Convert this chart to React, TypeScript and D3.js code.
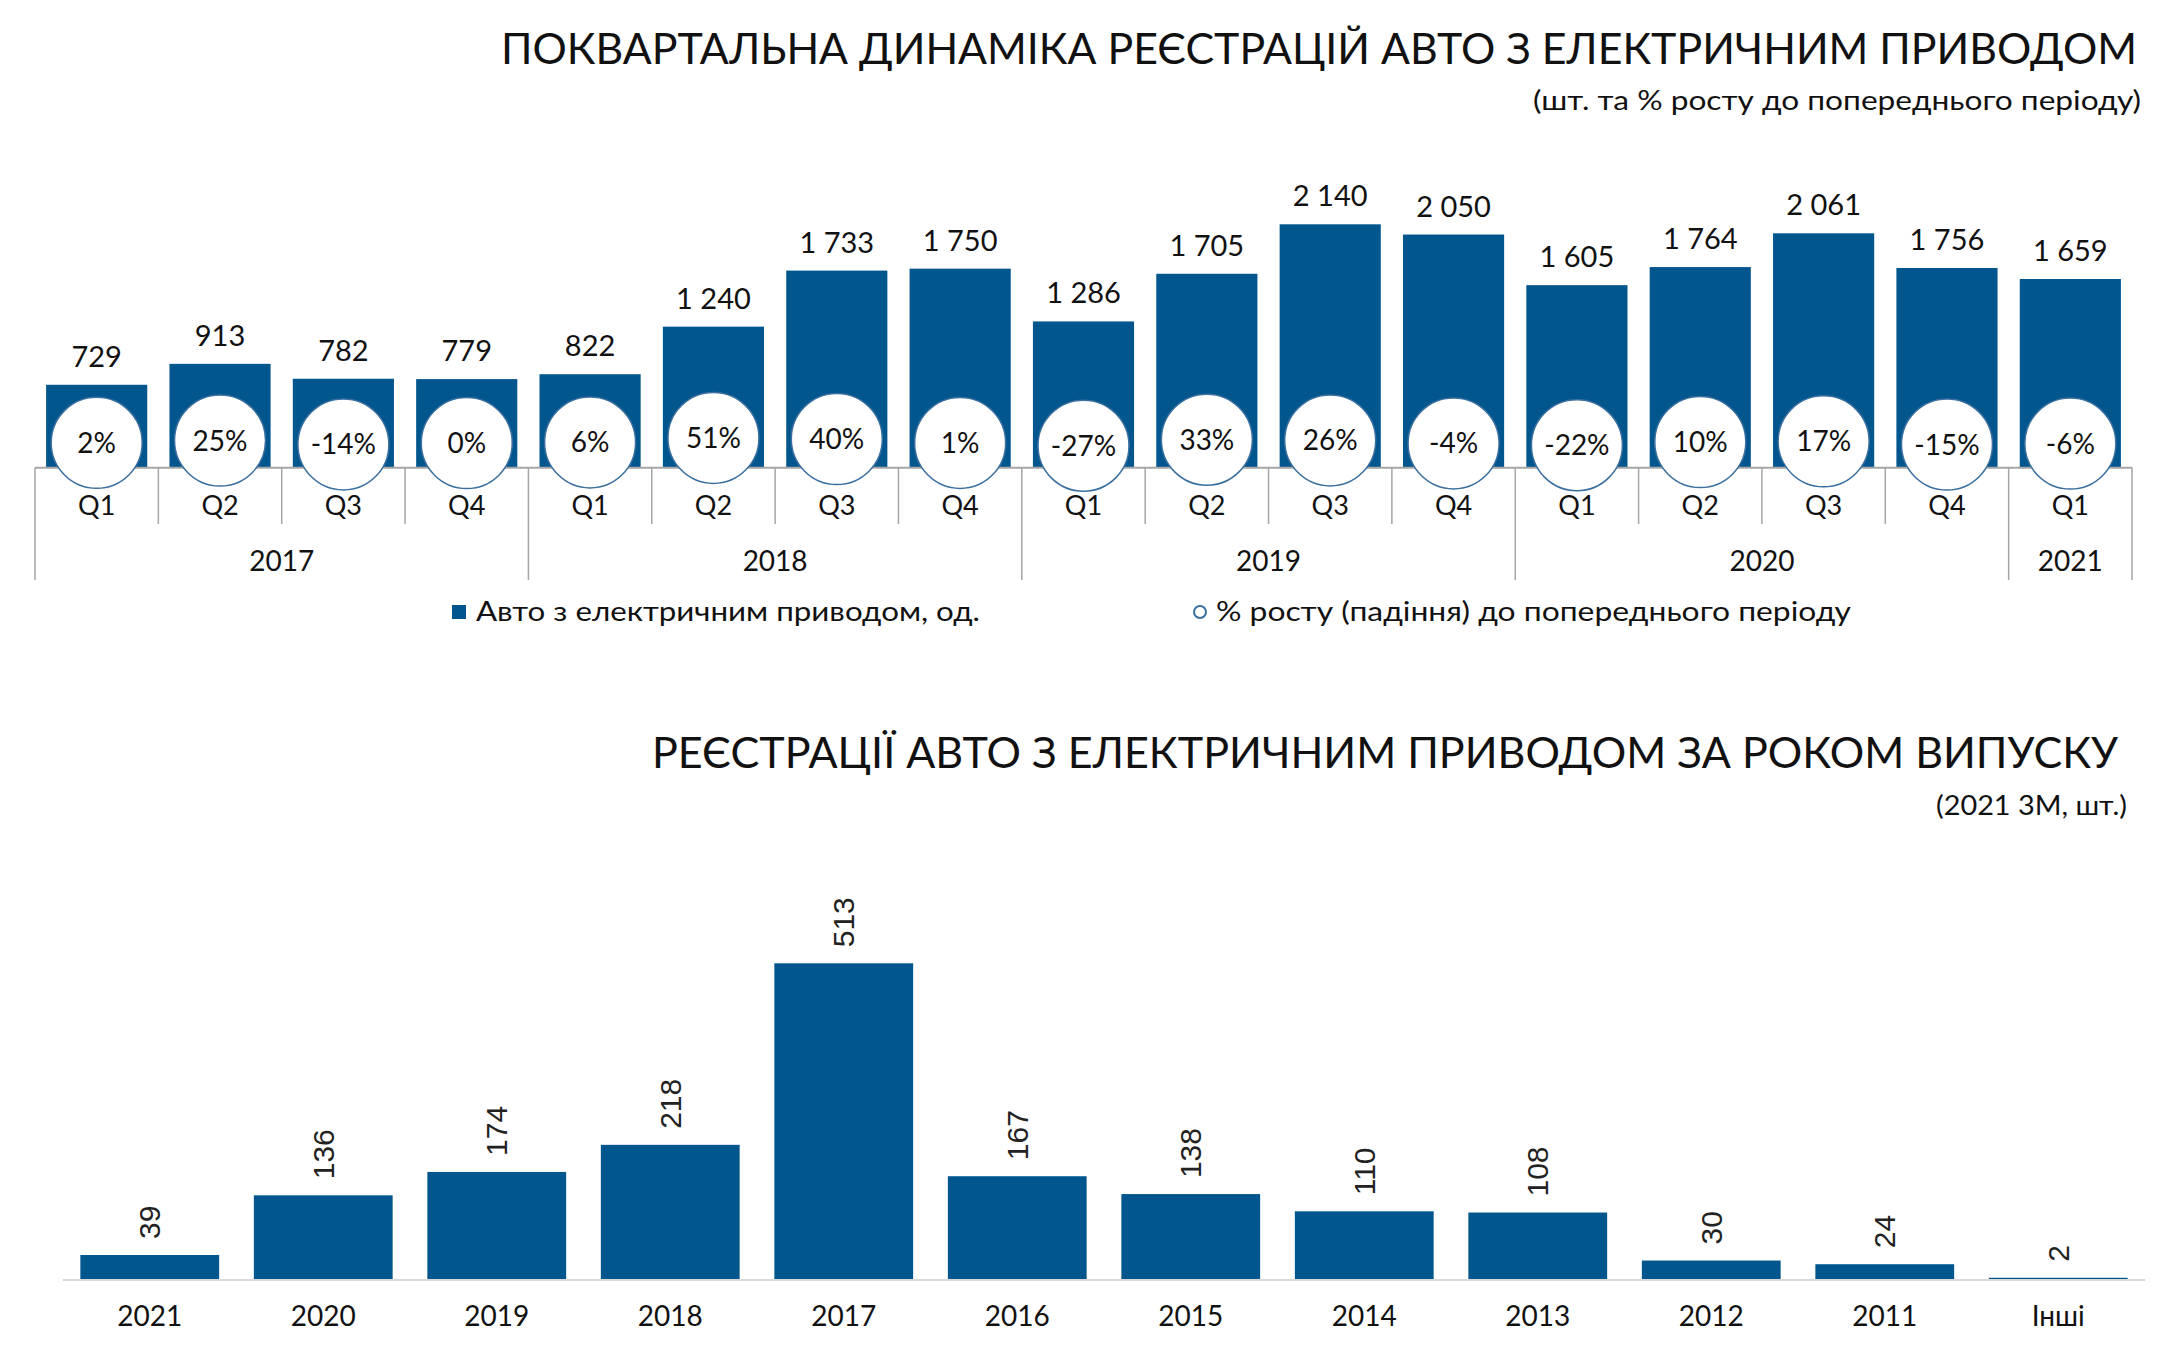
import React from "react";
import * as d3 from "d3";

// ---- Data: quarterly EV registrations ----
const quarterLabels = ["Q1","Q2","Q3","Q4","Q1","Q2","Q3","Q4","Q1","Q2","Q3","Q4","Q1","Q2","Q3","Q4","Q1"];
const quarterYears = ["2017","2017","2017","2017","2018","2018","2018","2018","2019","2019","2019","2019","2020","2020","2020","2020","2021"];
const quarterValues = [729, 913, 782, 779, 822, 1240, 1733, 1750, 1286, 1705, 2140, 2050, 1605, 1764, 2061, 1756, 1659];
const quarterGrowth = [2, 25, -14, 0, 6, 51, 40, 1, -27, 33, 26, -4, -22, 10, 17, -15, -6];

// ---- Data: registrations by model year ----
const modelYears = ["2021","2020","2019","2018","2017","2016","2015","2014","2013","2012","2011","Інші"];
const modelYearValues = [39, 136, 174, 218, 513, 167, 138, 110, 108, 30, 24, 2];

const title1 = "ПОКВАРТАЛЬНА ДИНАМІКА РЕЄСТРАЦІЙ АВТО З ЕЛЕКТРИЧНИМ ПРИВОДОМ";
const subtitle1 = "(шт. та % росту до попереднього періоду)";
const legend1 = "Авто з електричним приводом,  од.";
const legend2 = "% росту  (падіння) до попереднього періоду";
const title2 = "РЕЄСТРАЦІЇ АВТО З ЕЛЕКТРИЧНИМ ПРИВОДОМ ЗА РОКОМ ВИПУСКУ";
const subtitle2 = "(2021 3М, шт.)";

const BLUE = "#02568e";
const FONT = "Lato, 'Noto Sans', sans-serif";
const TXT = "#111";

const fmt = d3.formatLocale({ thousands: "\u00a0", grouping: [3], decimal: ",", currency: ["", ""] }).format(",d");

export default function App() {
  const W = 2176, H = 1357;

  // Top chart scales
  const idx = quarterValues.map((_, i) => i);
  const x1 = d3.scaleBand<number>().domain(idx).range([35, 2132]).paddingInner(0.18).paddingOuter(0.09);
  const step1 = x1.step();
  const axisLeft = 35;
  const y1 = d3.scaleLinear().domain([0, 2140]).range([467.7, 224.3]);
  const yPct = d3.scaleLinear().domain([-30, 60]).range([446, 437]);
  const base1 = y1(0);

  // year groups
  const groups: { year: string; start: number; end: number }[] = [];
  quarterYears.forEach((yr, i) => {
    const g = groups[groups.length - 1];
    if (g && g.year === yr) g.end = i + 1;
    else groups.push({ year: yr, start: i, end: i + 1 });
  });
  const yearBoundaries = new Set<number>();
  groups.forEach(g => { yearBoundaries.add(g.start); yearBoundaries.add(g.end); });

  // Bottom chart scales
  const x2 = d3.scaleBand<string>().domain(modelYears).range([63, 2145]).paddingInner(0.2).paddingOuter(0.1);
  const y2 = d3.scaleLinear().domain([0, 513]).range([1279, 963.3]);
  const base2 = y2(0);

  return (
    <svg width={W} height={H} style={{ position: "absolute", left: 0, top: 0, background: "#fff" }} fontFamily={FONT}>
      <rect x={0} y={0} width={W} height={H} fill="#fff" />
      {/* Titles */}
      <text x={501} y={63.5} fontSize={42} fill={TXT} textLength={1636} lengthAdjust="spacingAndGlyphs">{title1}</text>
      <text x={1533} y={110} fontSize={27} fill={TXT} textLength={608} lengthAdjust="spacingAndGlyphs">{subtitle1}</text>

      {/* Top bars */}
      {quarterValues.map((v, i) => (
        <rect key={"b" + i} x={x1(i)} y={y1(v)} width={x1.bandwidth()} height={base1 - y1(v)} fill={BLUE} />
      ))}
      {quarterValues.map((v, i) => (
        <text key={"v" + i} x={x1(i)! + x1.bandwidth() / 2} y={y1(v) - 18} fontSize={29} fill={TXT} textAnchor="middle">{fmt(v)}</text>
      ))}

      {/* Axis */}
      <line x1={axisLeft} x2={axisLeft + step1 * quarterValues.length} y1={base1} y2={base1} stroke="#a6a6a6" strokeWidth={2} />
      {d3.range(quarterValues.length + 1).map(i => (
        <line key={"s" + i} x1={axisLeft + i * step1} x2={axisLeft + i * step1} y1={base1} y2={yearBoundaries.has(i) ? 580 : 524} stroke="#a6a6a6" strokeWidth={1.5} />
      ))}

      {/* Growth circles */}
      {quarterGrowth.map((g, i) => {
        const cx = x1(i)! + x1.bandwidth() / 2;
        const cy = yPct(g);
        return (
          <g key={"c" + i}>
            <circle cx={cx} cy={cy} r={45.5} fill="#fff" stroke="#3a6f9f" strokeWidth={1.5} />
            <text x={cx} y={cy} dy="0.36em" fontSize={28} fill={TXT} textAnchor="middle">{g + "%"}</text>
          </g>
        );
      })}

      {/* Quarter labels */}
      {quarterLabels.map((q, i) => (
        <text key={"q" + i} x={x1(i)! + x1.bandwidth() / 2} y={515} fontSize={27} fill={TXT} textAnchor="middle">{q}</text>
      ))}
      {groups.map(g => (
        <text key={"y" + g.year} x={axisLeft + ((g.start + g.end) / 2) * step1} y={571} fontSize={28} fill={TXT} textAnchor="middle">{g.year}</text>
      ))}

      {/* Legend */}
      <rect x={452} y={605} width={14} height={14} fill={BLUE} />
      <text x={476} y={621} fontSize={27} fill={TXT} textLength={504} lengthAdjust="spacingAndGlyphs">{legend1}</text>
      <circle cx={1200} cy={612} r={6} fill="#fff" stroke="#3a6f9f" strokeWidth={2} />
      <text x={1216} y={621} fontSize={27} fill={TXT} textLength={635} lengthAdjust="spacingAndGlyphs">{legend2}</text>

      {/* Second chart */}
      <text x={652} y={768} fontSize={42} fill={TXT} textLength={1466} lengthAdjust="spacingAndGlyphs">{title2}</text>
      <text x={1936} y={815} fontSize={26} fill={TXT} textLength={191} lengthAdjust="spacingAndGlyphs">{subtitle2}</text>

      {modelYearValues.map((v, i) => (
        <rect key={"mb" + i} x={x2(modelYears[i])} y={y2(v)} width={x2.bandwidth()} height={base2 - y2(v)} fill={BLUE} />
      ))}
      <line x1={63} x2={2145} y1={base2 + 1} y2={base2 + 1} stroke="#d9d9d9" strokeWidth={2} />
      {modelYearValues.map((v, i) => {
        const cx = x2(modelYears[i])! + x2.bandwidth() / 2;
        const ty = y2(v) - 16;
        return (
          <text key={"mv" + i} transform={`translate(${cx},${ty}) rotate(-90)`} dy="0.35em" fontSize={30}
            fontFamily="'Liberation Sans', Arial, sans-serif" fill="#222" textAnchor="start">{v}</text>
        );
      })}
      {modelYears.map((m, i) => (
        <text key={"ml" + i} x={x2(m)! + x2.bandwidth() / 2} y={1326} fontSize={28} fill={TXT} textAnchor="middle">{m}</text>
      ))}
    </svg>
  );
}
